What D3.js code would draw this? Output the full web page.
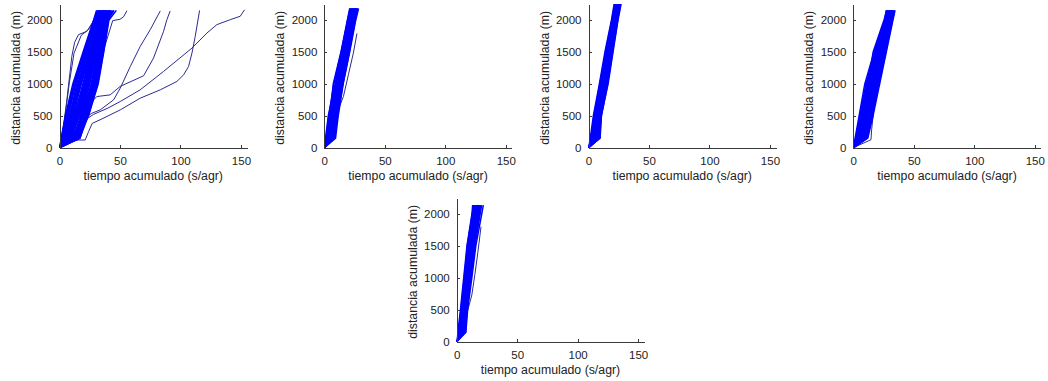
<!DOCTYPE html>
<html>
<head>
<meta charset="utf-8">
<script src="https://cdn.jsdelivr.net/npm/d3@7/dist/d3.min.js"></script>
<style>
  body { margin: 0; background: #fff; }
  svg { display: block; }
  .axis path, .axis line { stroke: #3a3a3a; shape-rendering: crispEdges; }
  .axis text { font-family: "Liberation Sans", Arial, sans-serif; font-size: 11.5px; fill: #222; }
  .label { font-family: "Liberation Sans", Arial, sans-serif; font-size: 12.3px; fill: #222; }
</style>
</head>
<body>
<script>
// ---- tick labels / titles
const xTicks = [0, 50, 100, 150];
const yTicks = [0, 500, 1000, 1500, 2000];
const xLabel = "tiempo acumulado (s/agr)";
const yLabel = "distancia acumulada (m)";

// ---- distance marks (m) where the accumulated time of every run is read
const marks1 = [150, 500, 1000, 1500, 2000, 2150];
const marks2 = [150, 500, 1000, 1500, 2000, 2180];
const marks3 = [150, 500, 1000, 1500, 2000, 2250];
const marks4 = [150, 500, 1000, 1500, 2000, 2150];
const marks5 = [150, 500, 1000, 1500, 2000, 2140];

// ---- accumulated time (s/agr) of each run at those marks (all start at 0,0)
const runs1 = [
  [1.4, 4.9, 11.0, 19.5, 28.2, 30.6], [2.1, 6.0, 12.4, 20.8, 29.0, 31.8],
  [3.0, 7.2, 13.5, 21.2, 28.9, 32.0], [2.6, 8.1, 15.2, 23.0, 30.4, 33.1],
  [4.2, 9.0, 15.8, 22.9, 30.0, 32.6], [3.8, 10.2, 17.6, 24.8, 31.5, 34.2],
  [5.1, 11.0, 18.0, 25.2, 32.2, 34.8], [6.3, 12.1, 19.4, 26.4, 32.9, 35.4],
  [4.8, 12.9, 20.8, 27.6, 33.8, 36.2], [7.5, 13.6, 21.0, 28.1, 34.0, 36.9],
  [6.9, 14.8, 22.6, 29.0, 34.6, 37.0], [8.8, 15.2, 22.1, 28.6, 34.2, 36.4],
  [9.4, 16.5, 23.9, 30.1, 35.3, 37.8], [10.2, 16.0, 22.8, 29.4, 35.6, 38.2],
  [11.0, 17.8, 25.0, 31.2, 36.2, 38.6], [12.3, 18.4, 24.6, 30.3, 35.1, 37.2],
  [13.1, 19.2, 26.4, 32.5, 37.4, 39.5], [11.8, 20.0, 27.8, 33.6, 38.0, 40.3],
  [14.2, 20.6, 27.0, 32.2, 36.8, 39.0], [15.0, 21.3, 28.5, 34.4, 39.0, 41.2],
  [16.2, 22.0, 29.6, 35.0, 39.6, 42.0], [15.6, 23.1, 30.4, 35.8, 40.2, 42.6],
  [16.8, 23.8, 31.5, 36.3, 40.5, 43.4], [17.0, 22.5, 29.0, 33.8, 38.4, 40.8],
  [9.9, 13.9, 19.6, 25.8, 31.3, 33.9], [5.9, 9.8, 16.6, 24.0, 31.8, 35.0],
  [13.8, 17.3, 23.5, 30.8, 37.0, 40.0], [7.9, 11.6, 17.1, 25.6, 33.0, 36.6],
  [12.6, 21.5, 28.9, 34.0, 38.8, 44.5], [3.4, 8.6, 14.3, 22.1, 29.6, 32.4],
  [10.7, 18.9, 26.1, 31.7, 37.9, 41.6], [14.9, 24.0, 32.0, 36.6, 40.9, 47.0],
  [1.8, 5.5, 11.8, 20.1, 28.6, 31.2], [2.9, 6.6, 13.0, 21.9, 29.8, 32.7],
  [4.0, 8.6, 16.4, 24.2, 31.1, 33.7], [5.6, 10.6, 17.9, 25.9, 32.5, 35.1],
  [7.0, 12.5, 19.9, 27.2, 33.4, 35.9], [8.3, 14.2, 21.6, 28.7, 34.7, 37.3],
  [9.0, 15.6, 23.2, 29.9, 35.9, 38.9], [12.0, 19.5, 26.9, 32.8, 37.7, 40.6],
  [13.5, 21.0, 28.0, 33.3, 38.2, 41.9], [16.0, 23.4, 30.9, 35.5, 39.9, 45.2]
];
const runs2 = [
  [1.0, 3.3, 8.9, 14.2, 19.3, 21.4], [1.5, 4.0, 9.4, 14.9, 19.8, 22.0],
  [2.2, 4.4, 9.9, 15.2, 20.5, 22.3], [2.0, 5.3, 10.1, 15.8, 20.9, 22.9],
  [3.1, 5.8, 11.0, 16.1, 21.1, 23.0], [3.6, 6.4, 11.2, 16.7, 21.8, 23.7],
  [4.0, 7.0, 11.9, 16.9, 22.1, 24.1], [4.9, 7.3, 12.3, 17.6, 22.5, 24.4],
  [5.3, 8.0, 12.5, 17.8, 23.1, 25.0], [5.5, 8.6, 13.2, 18.5, 23.4, 25.2],
  [6.3, 8.9, 13.6, 18.7, 24.0, 25.9], [6.9, 9.4, 14.1, 19.3, 24.3, 26.1],
  [7.6, 9.8, 14.3, 19.8, 24.9, 26.8], [8.0, 10.4, 15.0, 20.0, 25.4, 27.3],
  [8.7, 11.0, 15.4, 20.7, 25.6, 27.6], [9.3, 11.5, 15.6, 21.0, 26.0, 28.3],
  [2.4, 4.6, 7.4, 13.8, 19.1, 21.0], [1.7, 3.7, 7.9, 14.0, 19.6, 21.7],
  [3.3, 5.5, 10.5, 15.5, 21.0, 23.3], [4.3, 7.2, 12.0, 17.3, 22.2, 24.2],
  [5.9, 8.2, 12.1, 17.1, 22.8, 25.5], [7.1, 10.0, 14.8, 19.5, 24.2, 26.0],
  [8.4, 10.2, 13.9, 19.1, 25.1, 27.5], [6.6, 9.1, 13.3, 18.2, 23.3, 25.1]
];
const runs3 = [
  [1.5, 4.0, 9.0, 13.6, 19.0, 21.2], [2.0, 4.6, 9.4, 14.1, 19.4, 21.8],
  [2.7, 5.0, 9.9, 14.3, 19.8, 22.0], [3.0, 5.7, 10.3, 14.9, 20.1, 22.5],
  [3.8, 6.1, 10.9, 15.2, 20.4, 22.9], [4.2, 6.6, 11.2, 15.8, 20.9, 23.2],
  [4.9, 7.2, 11.8, 16.1, 21.2, 23.5], [5.4, 7.5, 12.1, 16.6, 21.6, 24.0],
  [6.0, 8.1, 12.7, 17.0, 22.0, 24.3], [6.5, 8.5, 13.0, 17.5, 22.3, 24.8],
  [7.1, 9.0, 13.6, 17.9, 22.8, 25.1], [7.8, 9.4, 14.0, 18.4, 23.1, 25.5],
  [8.4, 9.9, 14.5, 18.8, 23.5, 25.8], [9.0, 10.3, 15.1, 19.4, 23.9, 26.2],
  [9.6, 10.7, 15.8, 19.9, 24.2, 26.5], [9.2, 10.5, 16.2, 20.3, 24.4, 26.9],
  [2.3, 5.3, 9.6, 14.6, 19.6, 22.2], [3.4, 5.9, 11.4, 16.3, 21.4, 23.7],
  [5.1, 7.9, 11.5, 15.5, 20.6, 23.0], [6.8, 8.8, 13.3, 18.1, 22.6, 24.9],
  [8.0, 9.7, 12.9, 17.2, 21.9, 24.5], [4.5, 7.0, 12.4, 17.7, 22.5, 24.6]
];
const runs4 = [
  [1.5, 4.8, 9.5, 17.2, 26.0, 27.2], [2.0, 5.5, 10.4, 17.9, 26.3, 27.9],
  [2.8, 6.0, 11.1, 18.4, 26.6, 28.3], [3.2, 6.9, 11.9, 19.0, 27.0, 28.9],
  [3.9, 7.5, 12.6, 19.6, 27.3, 29.2], [4.5, 8.3, 13.2, 20.1, 27.7, 29.6],
  [5.0, 8.8, 14.0, 20.8, 28.0, 30.0], [5.8, 9.6, 14.7, 21.3, 28.4, 30.4],
  [6.3, 10.3, 15.3, 21.9, 28.8, 30.7], [6.9, 10.9, 16.0, 22.4, 29.1, 31.1],
  [7.6, 11.5, 16.8, 23.0, 29.5, 31.5], [8.2, 12.2, 17.4, 23.6, 29.9, 31.8],
  [8.8, 12.9, 18.1, 24.3, 30.3, 32.2], [9.5, 13.6, 18.9, 24.9, 30.8, 32.6],
  [10.1, 14.3, 19.7, 25.6, 31.3, 33.1], [10.8, 15.0, 20.5, 26.2, 31.8, 33.6],
  [11.5, 15.7, 21.2, 26.9, 32.4, 34.1], [12.0, 16.3, 21.8, 27.3, 32.8, 34.5],
  [2.4, 6.4, 12.2, 16.4, 25.4, 27.6], [3.6, 7.1, 11.4, 18.7, 26.9, 28.6],
  [4.9, 9.1, 14.4, 21.6, 28.9, 31.0], [7.1, 11.8, 17.0, 22.0, 28.6, 30.2],
  [9.1, 12.4, 16.5, 23.2, 30.0, 32.8], [10.5, 13.9, 18.4, 25.1, 31.0, 33.8],
  [6.0, 9.9, 15.9, 22.7, 29.7, 31.4], [11.2, 14.8, 19.1, 24.5, 30.6, 32.0]
];
const runs5 = [
  [1.0, 3.1, 5.8, 8.5, 12.6, 13.2], [1.4, 3.5, 6.2, 9.0, 13.1, 13.9],
  [1.9, 3.8, 6.6, 9.5, 13.4, 14.4], [2.3, 4.2, 7.0, 9.9, 13.9, 14.8],
  [2.7, 4.6, 7.4, 10.3, 14.3, 15.2], [3.1, 5.0, 7.8, 10.8, 14.7, 15.7],
  [3.5, 5.4, 8.2, 11.2, 15.2, 16.1], [4.0, 5.8, 8.6, 11.7, 15.6, 16.6],
  [4.4, 6.2, 9.0, 12.1, 16.1, 17.0], [4.9, 6.6, 9.4, 12.6, 16.6, 17.5],
  [5.3, 7.0, 9.8, 13.0, 17.0, 18.0], [5.8, 7.4, 10.3, 13.5, 17.5, 18.5],
  [6.3, 7.8, 10.7, 14.0, 18.1, 19.1], [6.8, 8.2, 11.2, 14.5, 18.7, 19.8],
  [7.3, 8.6, 11.8, 15.1, 19.4, 20.6], [7.6, 9.0, 12.5, 15.8, 20.7, 22.0],
  [1.6, 3.9, 6.9, 8.7, 13.0, 14.1], [2.9, 4.9, 8.0, 11.5, 14.9, 16.3],
  [4.6, 6.5, 9.6, 12.9, 16.9, 18.6], [6.0, 7.7, 10.9, 14.3, 18.3, 19.5],
  [3.8, 5.7, 8.8, 11.9, 16.3, 17.9], [5.6, 7.3, 10.1, 13.3, 17.8, 19.3]
];

// ---- runs that leave the main band: [time, distance] pairs
const strays1 = [
  [[0, 0], [12, 200], [20, 420], [28, 520], [40, 620], [50.2, 723], [66.7, 906], [86, 1194], [109.5, 1560], [121.9, 1796], [130.1, 1927], [141.2, 2005], [149.4, 2058], [153, 2160]],
  [[0, 0], [10, 110], [15.7, 120], [21.2, 120], [24, 250], [27, 380], [35, 450], [50.2, 592], [66.7, 775], [83.3, 906], [97, 1037], [102.6, 1141], [106.7, 1272], [109.5, 1482], [112.2, 1743], [115.8, 2150]],
  [[0, 0], [14, 250], [22.6, 487], [26.7, 539], [33.6, 592], [44.7, 749], [50.2, 932], [58.5, 1271], [66.7, 1585], [75, 1848], [83.3, 2142]],
  [[0, 0], [16, 420], [28.1, 749], [30.9, 801], [41.9, 827], [50.2, 960], [69.5, 1126], [77.7, 1403], [86, 1821], [88.8, 2005], [91.5, 2142]],
  [[0, 0], [8, 150], [16, 500], [27, 1000], [36, 1500], [44, 1990], [50, 2010], [53, 2050], [55.7, 2145]],
  [[0, 0], [3, 300], [6.1, 749], [10.2, 1430], [12.5, 1650], [15.7, 1770], [22.6, 1822], [27, 1950], [33, 2150]],
  [[0, 0], [4, 400], [8, 1000], [12, 1480], [18, 1760], [24, 1850], [30, 2050], [34, 2150]]
];
const strays2 = [
  [[0, 0], [5, 200], [10, 520], [15.8, 800], [20, 1150], [24, 1480], [27, 1790]]
];
const strays3 = [];
const strays4 = [
  [[0, 0], [14.6, 125], [15.2, 290], [17, 600], [20, 1000], [24.5, 1500], [29, 2000], [31, 2150]]
];
const strays5 = [
  [[0, 0], [5, 150], [9, 480], [12.5, 731], [15, 1050], [17.5, 1400], [20.1, 1800]]
];

// ---- layout (pixels)
const W = 1048, H = 381;
const plotW = 187.5, plotH = 143.7;
const xMax = 155, yMax = 2250;
const panels = [
  { left: 59.5, top: 4, marks: marks1, runs: runs1, strays: strays1 },
  { left: 324.3, top: 4, marks: marks2, runs: runs2, strays: strays2 },
  { left: 588.5, top: 4, marks: marks3, runs: runs3, strays: strays3 },
  { left: 853.3, top: 4, marks: marks4, runs: runs4, strays: strays4 },
  { left: 456.7, top: 198, marks: marks5, runs: runs5, strays: strays5 }
];

const svg = d3.select("body").append("svg")
  .attr("width", W)
  .attr("height", H);

const x = d3.scaleLinear().domain([0, xMax]).range([0, plotW]);
const y = d3.scaleLinear().domain([0, yMax]).range([plotH, 0]);
const line = d3.line().x(d => x(d[0])).y(d => y(d[1]));

panels.forEach((p, i) => {
  const g = svg.append("g").attr("transform", `translate(${p.left},${p.top})`);

  // clip like the axes box
  svg.append("clipPath").attr("id", "clip" + i)
    .append("rect").attr("x", 0).attr("y", 0).attr("width", plotW + 1).attr("height", plotH);

  const lines = g.append("g").attr("clip-path", `url(#clip${i})`);

  // every run starts at the origin
  const bandRuns = p.runs.map(r => [[0, 0]].concat(r.map((t, k) => [t, p.marks[k]])));

  lines.selectAll(".stray")
    .data(p.strays)
    .enter().append("path")
    .attr("d", line)
    .attr("fill", "none")
    .attr("stroke", "#2b2b92")
    .attr("stroke-width", 1);

  lines.selectAll(".band")
    .data(bandRuns)
    .enter().append("path")
    .attr("d", line)
    .attr("fill", "none")
    .attr("stroke", "#0000ff")
    .attr("stroke-width", 1.5);

  //--- axes (ticks point inward, no box)
  g.append("g")
    .attr("class", "axis")
    .attr("transform", `translate(0,${plotH})`)
    .call(d3.axisBottom(x).tickValues(xTicks).tickFormat(d3.format("d"))
      .tickSizeInner(-3).tickSizeOuter(0).tickPadding(9));

  g.append("g")
    .attr("class", "axis")
    .call(d3.axisLeft(y).tickValues(yTicks).tickFormat(d3.format("d"))
      .tickSizeInner(-3).tickSizeOuter(0).tickPadding(7));

  g.append("text")
    .attr("class", "label")
    .attr("x", plotW / 2)
    .attr("y", plotH + 32)
    .attr("text-anchor", "middle")
    .text(xLabel);

  g.append("text")
    .attr("class", "label")
    .attr("transform", `translate(-40,${plotH / 2 + 2}) rotate(-90)`)
    .attr("text-anchor", "middle")
    .text(yLabel);
});
</script>
</body>
</html>
